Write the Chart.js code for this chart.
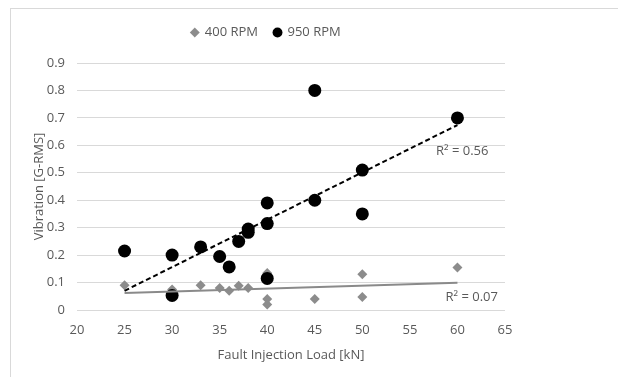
<!DOCTYPE html>
<html>
<head>
<meta charset="utf-8">
<script src="https://cdn.jsdelivr.net/npm/chart.js@4.4.1/dist/chart.umd.min.js"></script>
<style>
  html, body { margin: 0; padding: 0; background: #fff; }
  #wrap { position: relative; width: 618px; height: 377px; }
  #frame { position: absolute; left: 10px; top: 8px; width: 640px; height: 400px;
           border-left: 1px solid #d9d9d9; border-top: 1px solid #d9d9d9; }
  canvas { position: absolute; left: 0; top: 0; }
</style>
</head>
<body>
<div id="wrap">
  <div id="frame"></div>
  <canvas id="vibration-chart" width="618" height="377"></canvas>
</div>
<script>
// Fault injection load (kN) and vibration (G-RMS)
const load400 = [25, 30, 33, 35, 36, 37, 38, 40, 40, 40, 45, 50, 50, 60];
const vib400  = [0.09, 0.075, 0.09, 0.08, 0.07, 0.088, 0.08, 0.135, 0.04, 0.02, 0.04, 0.13, 0.047, 0.155];

const load950 = [25, 30, 30, 33, 35, 36, 37, 38, 38, 40, 40, 40, 45, 45, 50, 50, 60];
const vib950  = [0.215, 0.2, 0.053, 0.23, 0.195, 0.157, 0.25, 0.295, 0.283, 0.39, 0.315, 0.115, 0.8, 0.4, 0.51, 0.35, 0.7];

// Linear trendline end points (as drawn)
const trendX    = [25, 60];
const trend400  = [0.062, 0.099];
const trend950  = [0.07, 0.674];
const rSquared  = ['R² = 0.07', 'R² = 0.56'];

const yTicks = [0, 0.1, 0.2, 0.3, 0.4, 0.5, 0.6, 0.7, 0.8, 0.9];

const toPoints = (xs, ys) => xs.map((x, i) => ({ x: x, y: ys[i] }));

const FONT = '"Open Sans", "Noto Sans", sans-serif';
const TEXT = '#595959';

// R² annotations next to each trendline
const r2Labels = {
    id: 'r2Labels',
    afterDatasetsDraw: function(chart) {
        const ctx = chart.ctx;
        const xs = chart.scales.x, ys = chart.scales.y;
        ctx.save();
        ctx.font = '13px ' + FONT;
        ctx.fillStyle = TEXT;
        ctx.textAlign = 'center';
        ctx.textBaseline = 'middle';
        ctx.fillText(rSquared[1], xs.getPixelForValue(60.5), ys.getPixelForValue(0.58));
        ctx.fillText(rSquared[0], xs.getPixelForValue(61.5), ys.getPixelForValue(0.047));
        ctx.restore();
    }
};

// leave a bit more room under the legend
const legendGap = {
    id: 'legendGap',
    beforeLayout: function(chart) {
        const legend = chart.legend;
        if (!legend || legend._gapPatched) return;
        const fit = legend.fit;
        legend.fit = function() {
            fit.call(this);
            this.height += 14;
        };
        legend._gapPatched = true;
    }
};

new Chart(document.getElementById('vibration-chart'), {
    type: 'scatter',
    data: {
        datasets: [{
            label: '950 RPM trend',
            data: toPoints(trendX, trend950),
            showLine: true,
            borderColor: '#000',
            borderWidth: 2,
            borderDash: [5, 3],
            pointRadius: 0,
            order: 0
        }, {
            label: '400 RPM trend',
            data: toPoints(trendX, trend400),
            showLine: true,
            borderColor: '#8a8a8a',
            borderWidth: 2,
            pointRadius: 0,
            order: 1
        }, {
            label: '400 RPM',
            data: toPoints(load400, vib400),
            pointStyle: 'rectRot',
            pointRadius: 5,
            backgroundColor: '#8c8c8c',
            borderColor: '#8c8c8c',
            borderWidth: 0,
            order: 3
        }, {
            label: '950 RPM',
            data: toPoints(load950, vib950),
            pointStyle: 'circle',
            pointRadius: 6.5,
            backgroundColor: '#000',
            borderColor: '#000',
            borderWidth: 0,
            order: 2
        }]
    },
    options: {
        responsive: false,
        animation: false,
        layout: { padding: { top: 10, left: 27, right: 113, bottom: 10 } },
        plugins: {
            tooltip: { enabled: false },
            legend: {
                position: 'top',
                labels: {
                    filter: item => !item.text.includes('trend'),
                    sort: (a, b) => a.datasetIndex - b.datasetIndex,
                    usePointStyle: true,
                    boxWidth: 7,
                    boxHeight: 7,
                    padding: 16,
                    color: TEXT,
                    font: { family: FONT, size: 13 }
                }
            }
        },
        scales: {
            x: {
                type: 'linear',
                min: 20,
                max: 65,
                ticks: { stepSize: 5, color: TEXT, padding: 4, font: { family: FONT, size: 13 } },
                grid: { display: false },
                border: { display: false },
                title: {
                    display: true,
                    text: 'Fault Injection Load [kN]',
                    color: TEXT,
                    font: { family: FONT, size: 13 }
                },
                afterFit: s => { s.height = 57; }
            },
            y: {
                type: 'linear',
                min: 0,
                max: 0.9,
                afterBuildTicks: s => { s.ticks = yTicks.map(v => ({ value: v })); },
                ticks: {
                    color: TEXT,
                    padding: 12,
                    font: { family: FONT, size: 13 },
                    callback: v => String(+v.toFixed(1))
                },
                grid: { color: '#d9d9d9', drawTicks: false },
                border: { display: false },
                title: {
                    display: true,
                    text: 'Vibration [G-RMS]',
                    color: TEXT,
                    font: { family: FONT, size: 13 }
                },
                afterFit: s => { s.width = 50; }
            }
        }
    },
    plugins: [r2Labels, legendGap]
});
</script>
</body>
</html>
